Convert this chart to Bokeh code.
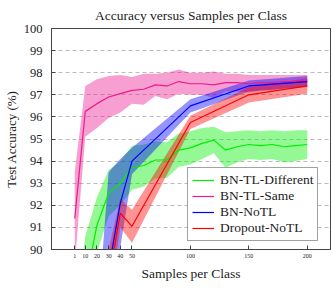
import numpy as np
from bokeh.plotting import figure
from bokeh.models import Legend, LegendItem, FixedTicker, Range1d
from bokeh.embed import file_html
from bokeh.resources import INLINE

# ---- data ----
x_tl = [1, 10, 20, 30, 40, 50, 60, 70, 80, 90, 100, 110, 120, 130, 140, 150, 160, 170, 180, 190, 200]
x_notl = [1, 10, 20, 30, 40, 50, 100, 150, 200]

green_mean = [85.0, 88.4, 91.1, 92.55, 93.0, 93.7, 93.8, 94.05, 94.05, 94.5, 94.6, 94.8, 94.95, 94.5, 94.65, 94.75, 94.7, 94.75, 94.65, 94.7, 94.75]
green_std = [2.0, 2.2, 1.25, 1.05, 1.0, 1.0, 0.95, 0.85, 0.8, 0.75, 0.75, 0.7, 0.6, 0.8, 0.7, 0.65, 0.65, 0.65, 0.7, 0.7, 0.65]

pink_mean = [91.4, 96.25, 96.6, 96.9, 97.05, 97.2, 97.25, 97.45, 97.4, 97.6, 97.5, 97.5, 97.45, 97.55, 97.55, 97.5, 97.55, 97.55, 97.6, 97.6, 97.65]
pink_std = [2.1, 1.15, 1.1, 0.95, 0.85, 0.6, 0.7, 0.5, 0.6, 0.55, 0.5, 0.5, 0.6, 0.4, 0.4, 0.4, 0.35, 0.35, 0.3, 0.3, 0.25]

blue_mean = [70.0, 78.0, 84.0, 89.1, 92.1, 94.0, 96.5, 97.4, 97.6]
blue_std = [3.0, 3.0, 2.5, 4.4, 2.0, 0.6, 0.3, 0.25, 0.25]

red_mean = [70.0, 78.0, 84.0, 88.6, 91.65, 91.05, 95.75, 97.0, 97.4]
red_std = [3.0, 3.0, 2.5, 1.4, 0.65, 0.75, 0.3, 0.35, 0.35]

x_ticks = [1, 10, 20, 30, 40, 50, 100, 150, 200]
y_ticks = list(range(90, 101))

series = [
    ("BN-TL-Different", x_tl, green_mean, green_std, "#00ee00"),
    ("BN-TL-Same", x_tl, pink_mean, pink_std, "#ec1a8e"),
    ("BN-NoTL", x_notl, blue_mean, blue_std, "#0000ff"),
    ("Dropout-NoTL", x_notl, red_mean, red_std, "#ff0000"),
]

SERIF = "Liberation Serif"

p = figure(frame_width=279, frame_height=221, x_range=Range1d(-18.9, 219.9), y_range=Range1d(90, 100),
           output_backend="svg", toolbar_location=None,
           min_border_left=45, min_border_right=1, min_border_top=24, min_border_bottom=34)

p.title.text = "Accuracy versus Samples per Class"
p.title.align = "center"
p.title.text_font = SERIF
p.title.text_font_size = "13.5px"
p.title.text_font_style = "normal"
p.title.text_color = "#222222"
p.title.standoff = 11

p.outline_line_color = "#444444"
p.outline_line_width = 1

# bands
for name, xs, m, s, c in series:
    m = np.array(m); s = np.array(s)
    p.varea(x=xs, y1=m - s, y2=m + s, fill_color=c, fill_alpha=0.42)

renderers = {}
for name, xs, m, s, c in series:
    r = p.line(x=xs, y=m, line_color=c, line_width=1.2)
    renderers[name] = r

# axes
for ax in [p.xaxis[0], p.yaxis[0]]:
    ax.major_tick_in = 4
    ax.major_tick_out = 0
    ax.minor_tick_line_color = None
    ax.axis_line_color = "#444444"
    ax.major_tick_line_color = "#444444"
    ax.axis_label_text_font = SERIF
    ax.axis_label_text_font_style = "normal"
    ax.axis_label_text_color = "#222222"
    ax.major_label_text_font = SERIF
    ax.major_label_text_color = "#222222"

p.xaxis.ticker = FixedTicker(ticks=x_ticks)
p.xaxis.major_label_text_font_size = "6px"
p.xaxis.major_label_standoff = 4
p.xaxis.axis_label = "Samples per Class"
p.xaxis.axis_label_text_font_size = "13.5px"
p.xaxis.axis_label_text_font_style = "normal"
p.xaxis.axis_label_standoff = 5

p.yaxis.ticker = FixedTicker(ticks=y_ticks)
p.yaxis.major_label_text_font_size = "12.5px"
p.yaxis.major_label_standoff = 9
p.yaxis.axis_label = "Test Accuracy (%)"
p.yaxis.axis_label_text_font_size = "13px"
p.yaxis.axis_label_text_font_style = "normal"
p.yaxis.axis_label_standoff = 2

p.xgrid.visible = False
p.ygrid.ticker = FixedTicker(ticks=y_ticks)
p.ygrid.grid_line_color = "#bbbbbb"
p.ygrid.grid_line_dash = "4 3"
p.ygrid.grid_line_width = 1

legend = Legend(items=[LegendItem(label=n, renderers=[renderers[n]]) for n, *_ in series],
                location=(136, 8))
legend.border_line_color = "#444444"
legend.border_line_width = 1
legend.background_fill_alpha = 1
legend.padding = 4
legend.margin = 0
legend.spacing = 0
legend.label_height = 16
legend.glyph_height = 16
legend.glyph_width = 22
legend.label_standoff = 6
legend.label_text_font = SERIF
legend.label_text_font_size = "13.5px"
legend.label_text_color = "#222222"
p.add_layout(legend)

open("out.html", "w").write(file_html(p, INLINE))
